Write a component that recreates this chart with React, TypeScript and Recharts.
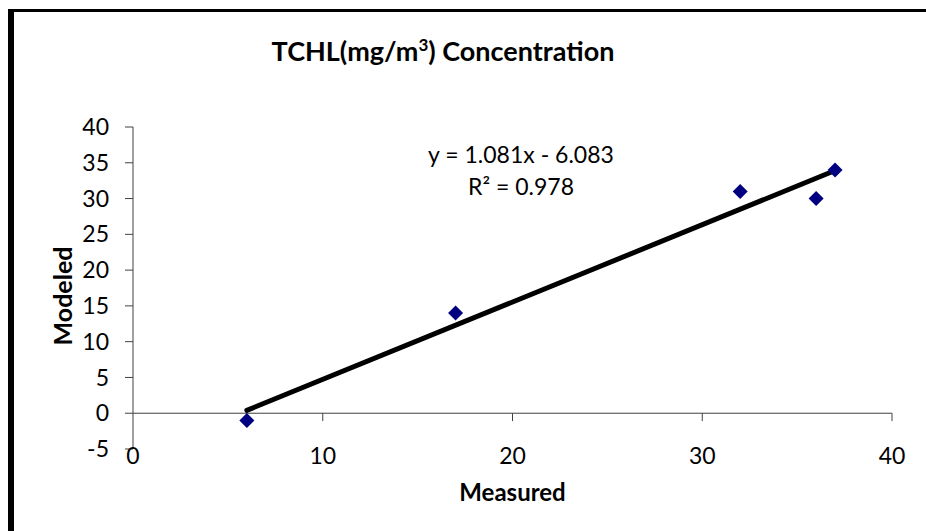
import { ScatterChart, Scatter, XAxis, YAxis, ReferenceLine, Label } from 'recharts';

// 측정값 vs 모델값
const measured = [6, 17, 32, 36, 37];
const modeled = [-1, 14, 31, 30, 34];

const xTicks = [0, 10, 20, 30, 40];
const yTicks = [-5, 0, 5, 10, 15, 20, 25, 30, 35, 40];

// 엑셀 추세선 (그림에 표시된 값)
const slope = 1.081;
const intercept = -6.083;
const rSquared = 0.978;

const FONT = 'Lato, "Open Sans", sans-serif';
const AXIS_TICK_LEN = 1.1; // y 단위

const points = measured.map((x, i) => ({ x, y: modeled[i] }));

const xMin = Math.min(...measured);
const xMax = Math.max(...measured);
const trend = [
  { x: xMin, y: slope * xMin + intercept },
  { x: xMax, y: slope * xMax + intercept },
];

function Diamond(props: any) {
  const { cx, cy } = props;
  const r = 7.5;
  return (
    <polygon
      points={`${cx},${cy - r} ${cx + r},${cy} ${cx},${cy + r} ${cx - r},${cy}`}
      fill="#000080"
    />
  );
}

// 세로 축 제목
function YTitle(props: any) {
  const { viewBox } = props;
  const cx = viewBox.x + 62;
  const cy = viewBox.y + viewBox.height / 2 + 8;
  return (
    <text
      x={cx}
      y={cy}
      transform={`rotate(-90, ${cx}, ${cy})`}
      textAnchor="middle"
      dominantBaseline="central"
      style={{ fontWeight: 700, fontSize: 25, fill: '#000', fontFamily: FONT }}
    >
      Modeled
    </text>
  );
}

export default function App() {
  return (
    <div
      style={{
        position: 'absolute',
        left: 0,
        top: 0,
        width: 926,
        height: 531,
        overflow: 'hidden',
        background: '#fff',
        fontFamily: FONT,
      }}
    >
      {/* 바깥 테두리 */}
      <div
        style={{
          position: 'absolute',
          left: 8,
          top: 9,
          width: 1000,
          height: 600,
          borderLeft: '6px solid #000',
          borderTop: '3px solid #000',
        }}
      />

      <div
        style={{
          position: 'absolute',
          left: 0,
          top: 34,
          width: 886,
          textAlign: 'center',
          fontWeight: 700,
          fontSize: 27,
          color: '#000',
        }}
      >
        TCHL(mg/m<sup style={{ fontSize: 17, verticalAlign: 0, position: 'relative', top: -10 }}>3</sup>) Concentration
      </div>

      <div style={{ position: 'absolute', left: 0, top: 0 }}>
        <ScatterChart
          width={926}
          height={531}
          margin={{ top: 127, right: 34, bottom: 0, left: 0 }}
          style={{ fontFamily: FONT }}
        >
          <XAxis
            type="number"
            dataKey="x"
            domain={[0, 40]}
            ticks={xTicks}
            axisLine={false}
            tickLine={false}
            tickSize={0}
            tickMargin={-1}
            height={82}
            tick={{ fill: '#000', fontSize: 23 }}
          >
            <Label
              value="Measured"
              position="center"
              dy={2}
              style={{ fontWeight: 700, fontSize: 24, fill: '#000' }}
            />
          </XAxis>
          <YAxis
            type="number"
            dataKey="y"
            domain={[-5, 40]}
            ticks={yTicks}
            width={133}
            tickSize={8}
            tickMargin={16}
            stroke="#404040"
            tick={{ fill: '#000', fontSize: 23 }}
          >
            <Label content={YTitle} />
          </YAxis>

          {/* y=0 위치의 x축 */}
          <ReferenceLine y={0} stroke="#404040" ifOverflow="visible" />
          {xTicks.slice(1).map((t) => (
            <ReferenceLine
              key={t}
              segment={[
                { x: t, y: 0 },
                { x: t, y: -AXIS_TICK_LEN },
              ]}
              stroke="#404040"
              ifOverflow="visible"
            />
          ))}

          <Scatter data={points} shape={Diamond} isAnimationActive={false} />

          <ReferenceLine
            segment={trend}
            stroke="#000"
            strokeWidth={5}
            strokeLinecap="round"
            ifOverflow="visible"
          />
        </ScatterChart>
      </div>

      {/* 추세선 식 */}
      <div
        style={{
          position: 'absolute',
          left: 421,
          top: 138,
          width: 200,
          textAlign: 'center',
          fontSize: 23,
          lineHeight: '32px',
          color: '#000',
        }}
      >
        <div>y = {slope}x - {Math.abs(intercept)}</div>
        <div>R² = {rSquared}</div>
      </div>
    </div>
  );
}
